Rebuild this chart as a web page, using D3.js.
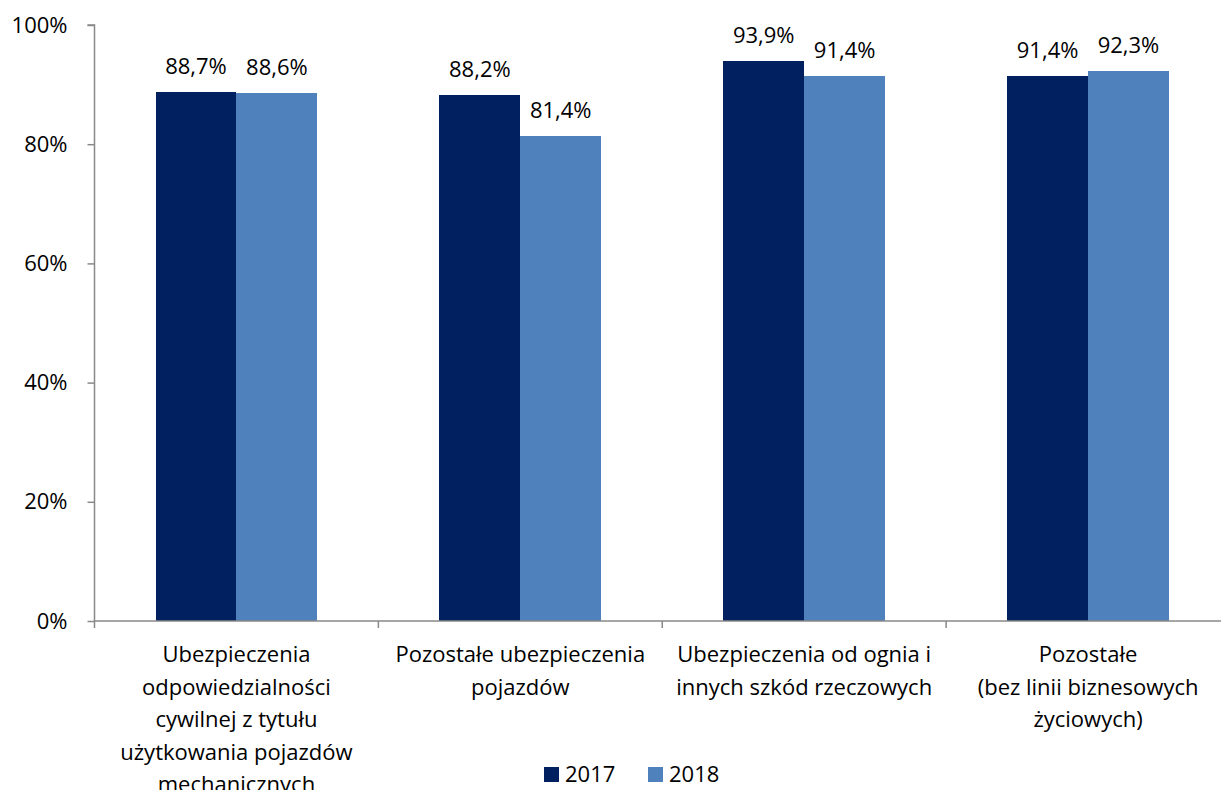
<!DOCTYPE html>
<html>
<head>
<meta charset="utf-8">
<script src="https://cdn.jsdelivr.net/npm/d3@7"></script>
<style>
  body { margin: 0; background: #fff; }
  svg { display: block; font-family: "Open Sans", sans-serif; }
</style>
</head>
<body>
<svg id="chart" width="1221" height="790"></svg>
<script>
// data
const categories = [
  ["Ubezpieczenia", "odpowiedzialności", "cywilnej z tytułu", "użytkowania pojazdów", "mechanicznych"],
  ["Pozostałe ubezpieczenia", "pojazdów"],
  ["Ubezpieczenia od ognia i", "innych szkód rzeczowych"],
  ["Pozostałe", "(bez linii biznesowych", "życiowych)"]
];
const years = ["2017", "2018"];
const values2017 = [0.887, 0.882, 0.939, 0.914];
const values2018 = [0.886, 0.814, 0.914, 0.923];
const yTicks = [0, 0.2, 0.4, 0.6, 0.8, 1];
const colors = ["#00205f", "#4f81bd"];

// plot area
const plotLeft = 94.5, plotRight = 1230, plotTop = 25, plotBottom = 621;
const axisColor = "#898989";
const fontSize = 22;

const svg = d3.select("#chart");

const x0 = d3.scaleBand()
  .domain(d3.range(categories.length))
  .range([plotLeft, plotRight])
  .paddingInner(0.43)
  .paddingOuter(0.215);

const x1 = d3.scaleBand()
  .domain(years)
  .range([0, x0.bandwidth()]);

const y = d3.scaleLinear().domain([0, 1]).range([plotBottom, plotTop]);

const series = [values2017, values2018];

// bars
const groups = svg.append("g")
  .selectAll("g")
  .data(categories.map((c, i) => i))
  .join("g")
  .attr("transform", (i) => `translate(${x0(i)},0)`);

groups.selectAll("rect")
  .data((i) => years.map((yr, k) => ({ yr, k, v: series[k][i] })))
  .join("rect")
  .attr("x", (d) => x1(d.yr))
  .attr("y", (d) => y(d.v))
  .attr("width", x1.bandwidth())
  .attr("height", (d) => y(0) - y(d.v))
  .attr("fill", (d) => colors[d.k])
  .attr("shape-rendering", "crispEdges");

// value labels
groups.selectAll("text")
  .data((i) => years.map((yr, k) => ({ yr, k, v: series[k][i] })))
  .join("text")
  .attr("x", (d) => x1(d.yr) + x1.bandwidth() / 2)
  .attr("y", (d) => y(d.v) - 18)
  .attr("text-anchor", "middle")
  .attr("font-size", fontSize)
  .attr("fill", "#000")
  .text((d) => (d.v * 100).toFixed(1).replace(".", ",") + "%");

// y axis
const yAxis = d3.axisLeft(y)
  .tickValues(yTicks)
  .tickSize(7)
  .tickPadding(20)
  .tickFormat(d3.format(".0%"));

const yG = svg.append("g")
  .attr("transform", `translate(${plotLeft},0)`)
  .call(yAxis);
yG.select(".domain").attr("stroke", axisColor).attr("stroke-width", 1.5)
  .attr("d", `M-7,${plotTop}H0V${plotBottom + 7}`);
yG.selectAll(".tick line").attr("stroke", axisColor).attr("stroke-width", 1.5);
yG.selectAll(".tick text").attr("font-size", fontSize).attr("fill", "#000")
  .attr("font-family", "Open Sans, sans-serif");

// x axis (ticks at category boundaries)
const xG = svg.append("g");
xG.append("line")
  .attr("x1", plotLeft).attr("x2", plotRight)
  .attr("y1", plotBottom).attr("y2", plotBottom)
  .attr("stroke", axisColor).attr("stroke-width", 1.5);
const sepX = (i) => x0(i) + x0.bandwidth() + x0.step() * x0.paddingInner() / 2;
xG.selectAll(".sep")
  .data(d3.range(categories.length))
  .join("line")
  .attr("class", "sep")
  .attr("x1", sepX)
  .attr("x2", sepX)
  .attr("y1", plotBottom).attr("y2", plotBottom + 7)
  .attr("stroke", axisColor).attr("stroke-width", 1.5);

// category labels
xG.selectAll(".cat")
  .data(categories)
  .join("text")
  .attr("class", "cat")
  .attr("text-anchor", "middle")
  .attr("font-size", fontSize)
  .attr("fill", "#000")
  .attr("transform", (d, i) => `translate(${x0(i) + x0.bandwidth() / 2},662)`)
  .selectAll("tspan")
  .data((d) => d)
  .join("tspan")
  .attr("x", 0)
  .attr("y", (d, j) => j * 32.5)
  .text((d) => d);

// legend
const legend = svg.append("g").attr("transform", "translate(544,767)");
const items = legend.selectAll("g")
  .data(years)
  .join("g")
  .attr("transform", (d, i) => `translate(${i * 104},0)`);
items.append("rect")
  .attr("width", 15).attr("height", 15)
  .attr("fill", (d, i) => colors[i]);
items.append("text")
  .attr("x", 21).attr("y", 15)
  .attr("font-size", fontSize)
  .attr("fill", "#000")
  .text((d) => d);
</script>
</body>
</html>
